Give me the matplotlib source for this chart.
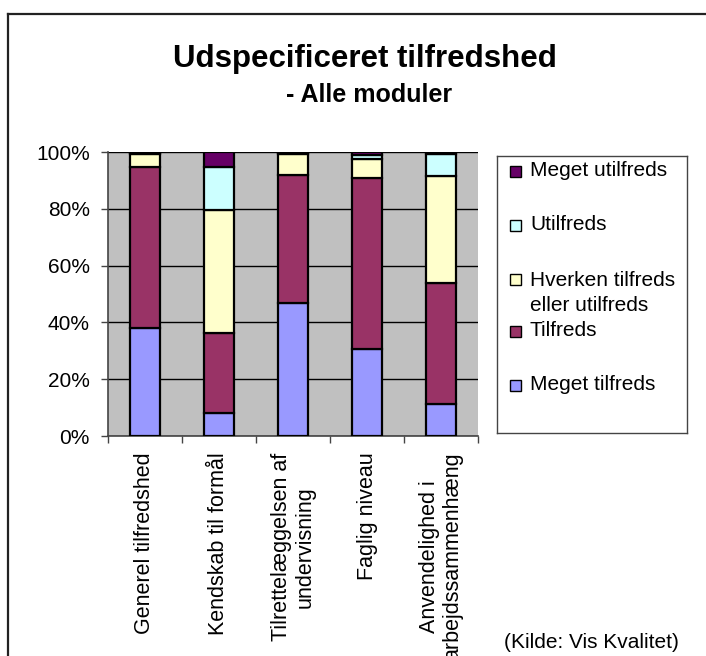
import numpy as np
import matplotlib
matplotlib.use("Agg")
import matplotlib.pyplot as plt
from matplotlib.patches import Rectangle
from matplotlib.lines import Line2D

plt.rcParams['font.family'] = ['Liberation Sans', 'DejaVu Sans']

categories = ["Generel tilfredshed", "Kendskab til formål",
              "Tilrettelæggelsen af\nundervisning", "Faglig niveau",
              "Anvendelighed i\narbejdssammenhæng"]

# percent per category, bottom to top
meget_tilfreds = [37.9, 8.2, 47.0, 30.8, 11.1]
tilfreds = [56.8, 28.1, 45.0, 60.1, 42.9]
hverken = [4.5, 43.2, 7.2, 6.8, 37.4]
utilfreds = [0.5, 15.2, 0.3, 1.1, 7.8]
meget_utilfreds = [0.3, 5.3, 0.5, 1.2, 0.8]

series = [meget_tilfreds, tilfreds, hverken, utilfreds, meget_utilfreds]
labels = ["Meget tilfreds", "Tilfreds", "Hverken tilfreds\neller utilfreds",
          "Utilfreds", "Meget utilfreds"]
colors = ["#9999FF", "#993366", "#FFFFCC", "#CCFFFF", "#660066"]

W, H = 706, 656
fig = plt.figure(figsize=(W / 100, H / 100), dpi=100)

def fx(px):
    return px / W

def fy(py):
    return 1 - py / H

# outer frame (left and top edges visible)
fig.add_artist(Line2D([fx(8), fx(8)], [fy(14), 0], color="#222222", lw=1.6,
                      transform=fig.transFigure))
fig.add_artist(Line2D([fx(8), 1], [fy(14), fy(14)], color="#222222", lw=1.6,
                      transform=fig.transFigure))

# plot area
ax = fig.add_axes([fx(108), fy(436), fx(478) - fx(108), fy(152) - fy(436)])
ax.set_facecolor("#C0C0C0")
x = np.arange(len(categories))
bottom = np.zeros(len(categories))
for vals, c in zip(series, colors):
    v = np.array(vals) / 100.0
    ax.bar(x, v, 0.405, bottom=bottom, color=c, edgecolor="black", linewidth=1.6,
           zorder=3)
    bottom += v

ax.set_xlim(-0.5, len(categories) - 0.5)
ax.set_ylim(0, 1)
ax.set_yticks(np.arange(0, 1.01, 0.2))
ax.set_yticklabels([f"{int(round(t * 100))}%" for t in np.arange(0, 1.01, 0.2)])
ax.yaxis.grid(True, color="black", lw=1.0, zorder=0)
ax.set_axisbelow(True)
for s in ["top", "right"]:
    ax.spines[s].set_visible(False)
for s in ["left", "bottom"]:
    ax.spines[s].set_color("#444444")
    ax.spines[s].set_linewidth(1.2)

ax.set_xticks(x)
ax.set_xticklabels(categories, rotation=90, va="top", ha="center",
                   multialignment="center", linespacing=1.15)
ax.set_xticks(np.arange(-0.5, len(categories), 1.0), minor=True)
ax.tick_params(axis="x", which="major", length=0, pad=12, labelsize=15.5)
ax.tick_params(axis="x", which="minor", length=5, width=1.0, color="#444444",
               direction="out")
ax.tick_params(axis="y", length=5, width=1.0, color="#444444", pad=8,
               labelsize=15)

# legend box
lax = fig.add_axes([fx(497), fy(433), fx(687) - fx(497), fy(156) - fy(433)])
lax.set_xlim(497, 687)
lax.set_ylim(433, 156)
lax.set_xticks([])
lax.set_yticks([])
for s in lax.spines.values():
    s.set_color("#444444")
    s.set_linewidth(1.0)
rows = [171, 225, 279, 331, 385]
for yc, lab, c in zip(rows, labels[::-1], colors[::-1]):
    lax.add_patch(Rectangle((510, yc - 5.5), 11, 11, facecolor=c,
                            edgecolor="black", lw=1.0))
    if "\n" in lab:
        lax.text(530, yc + 14, lab, va="center", ha="left", fontsize=15,
                 linespacing=1.45)
    else:
        lax.text(530, yc, lab, va="center", ha="left", fontsize=15)

fig.text(fx(365), fy(67), "Udspecificeret tilfredshed", ha="center",
         va="baseline", fontsize=22.5, fontweight="bold")
fig.text(fx(369), fy(102), "- Alle moduler", ha="center", va="baseline",
         fontsize=18, fontweight="bold")
fig.text(fx(679), fy(648), "(Kilde: Vis Kvalitet)", ha="right",
         va="baseline", fontsize=15)

fig.savefig("out.png", dpi=100)
